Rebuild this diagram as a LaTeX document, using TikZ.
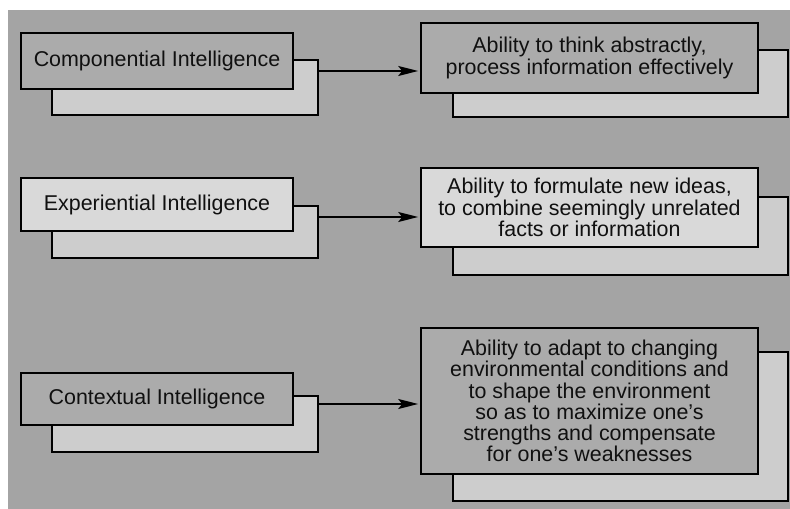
\documentclass[tikz,border=0pt]{standalone}
\usepackage{fontspec}
\setmainfont{Liberation Sans}
\usetikzlibrary{arrows.meta}
\definecolor{bggray}{HTML}{A4A4A4}
\definecolor{darkbox}{HTML}{ABABAB}
\definecolor{lightbox}{HTML}{D9D9D9}
\definecolor{shadowbox}{HTML}{CDCDCD}
\definecolor{inkc}{HTML}{101010}
\tikzset{
  boxbase/.style={draw=black, line width=1.6bp, inner sep=0pt, align=center,
    text=inkc, font=\fontsize{21.5}{22.5}\selectfont},
  frontdark/.style={boxbase, fill=darkbox},
  frontlight/.style={boxbase, fill=lightbox},
  backbox/.style={boxbase, fill=shadowbox},
  conn/.style={draw=black, line width=1.8bp, shorten >=2bp, -{Stealth[length=20bp,width=10bp,inset=4bp]}}
}
\begin{document}
\begin{tikzpicture}[x=1bp,y=1bp]
\useasboundingbox (0,0) rectangle (790,509);
\fill[white] (0,0) rectangle (790,509);
\fill[bggray] (8,0) rectangle (790,499);

% Row 1
\node[backbox, minimum width=266bp, minimum height=55bp] (ls1) at (185,421.5) {};
\node[frontdark, minimum width=272bp, minimum height=56bp] (lf1) at (157,448) {Componential Intelligence};
\node[backbox, minimum width=335bp, minimum height=67bp] (rs1) at (620.5,425.5) {};
\node[frontdark, minimum width=337bp, minimum height=70bp] (rf1) at (589.5,451) {Ability to think abstractly,\\process information effectively};
\coordinate (a1) at (0,438);
\draw[conn] (ls1.east |- a1) -- (rf1.west |- a1);

% Row 2
\node[backbox, minimum width=266bp, minimum height=52bp] (ls2) at (185,277) {};
\node[frontlight, minimum width=272bp, minimum height=53bp] (lf2) at (157,304.5) {Experiential Intelligence};
\node[backbox, minimum width=335bp, minimum height=78bp] (rs2) at (620.5,273) {};
\node[frontlight, minimum width=337bp, minimum height=79bp, font=\fontsize{21.5}{21.5}\selectfont] (rf2) at (589.5,301.5) {Ability to formulate new ideas,\\to combine seemingly unrelated\\facts or information};
\coordinate (a2) at (0,292);
\draw[conn] (ls2.east |- a2) -- (rf2.west |- a2);

% Row 3
\node[backbox, minimum width=266bp, minimum height=56bp] (ls3) at (185,85) {};
\node[frontdark, minimum width=272bp, minimum height=52bp] (lf3) at (157,110) {Contextual Intelligence};
\node[backbox, minimum width=335bp, minimum height=149bp] (rs3) at (620.5,82.5) {};
\node[frontdark, minimum width=337bp, minimum height=146bp, font=\fontsize{21.5}{21.3}\selectfont] (rf3) at (589.5,108) {Ability to adapt to changing\\environmental conditions and\\to shape the environment\\so as to maximize one's\\strengths and compensate\\for one's weaknesses};
\coordinate (a3) at (0,105);
\draw[conn] (ls3.east |- a3) -- (rf3.west |- a3);
\end{tikzpicture}
\end{document}
